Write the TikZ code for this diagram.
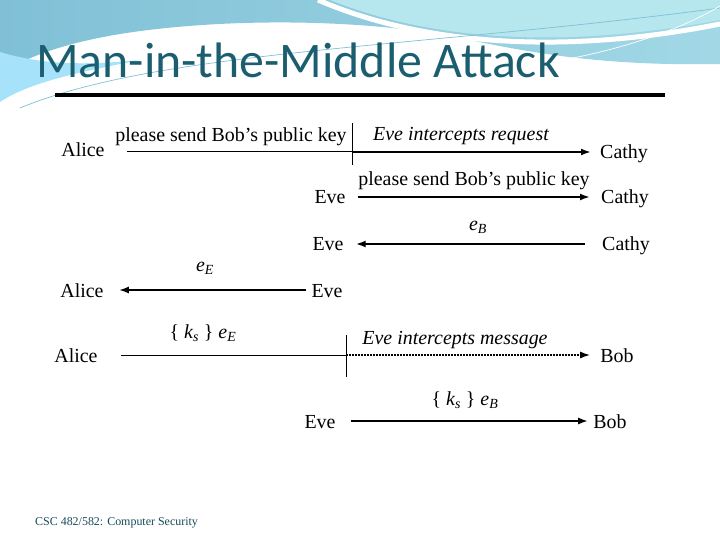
\documentclass[tikz,border=0pt]{standalone}
\usepackage{fontspec}
\setmainfont{Liberation Serif}
\newfontfamily\titlefont{Carlito}
\usetikzlibrary{arrows.meta}
\definecolor{slideteal}{HTML}{1B5E70}
\definecolor{swoopdark}{HTML}{80C0D6}
\definecolor{swooplight}{HTML}{A2D8E6}
\definecolor{swoopbright}{HTML}{B6E6EE}
\tikzset{
  party/.style={font=\fontsize{20}{24}\selectfont, inner sep=5bp,
                text height=14bp, text depth=0bp},
  msglabel/.style={font=\fontsize{20}{24}\selectfont, inner sep=0bp},
  note/.style={font=\fontsize{20}{24}\selectfont\itshape, inner sep=0bp},
  msg/.style={line width=2bp, -{Latex[length=10bp,width=7bp]}},
  sent/.style={line width=1bp},
  cut/.style={line width=1bp},
}

\begin{document}
\begin{tikzpicture}[x=1bp,y=-1bp]
  \useasboundingbox (0,0) rectangle (720,540);
  %
  % slide background: the swoosh at the top
  \shade[left color=swoopdark, right color=swooplight]
    (0,0) -- (720,0) -- (720,64)
    .. controls (610,66) and (540,55) .. (460,38)
    .. controls (360,18) and (220,18) .. (120,34)
    .. controls (60,44) and (25,58) .. (0,74) -- cycle;
  \fill[swoopbright] (330,0) .. controls (430,40) and (560,50) .. (720,20)
    -- (720,0) -- cycle;
  \draw[white, line width=5bp] (318,0) .. controls (420,44) and (560,56) .. (720,24);
  \fill[cyan!35] (0,52) .. controls (40,64) and (80,66) .. (140,60)
    .. controls (80,72) and (30,82) .. (0,102) -- cycle;
  \draw[swoopdark, line width=0.7bp] (20,108) .. controls (160,50) and (420,48) .. (720,8);
  \draw[white, line width=0.7bp] (470,72) .. controls (600,62) and (680,30) .. (720,6);
  %
  % title and rule
  \node[anchor=base west, inner sep=0bp, text=slideteal,
        font=\titlefont\fontsize{50}{60}\selectfont] (title) at (36,78)
        {Man-in-the-Middle Attack};
  \draw[line width=4bp] (55,95) -- (665,95);
  %
  % row 1: Alice asks for Bob's key, Eve intercepts
  \node[party] (alice1) at (83,150) {Alice};
  \node[party] (cathy1) at (624,152) {Cathy};
  \coordinate (cut1) at (352,152);
  \node[msglabel] (ask1) at (231,137) {please send Bob’s public key};
  \node[note] (note1) at (461,136) {Eve intercepts request};
  \draw[sent, shorten <=17bp] (alice1.east |- cut1) -- (cut1);
  \draw[msg, shorten >=4bp] (cut1) -- (cut1 -| cathy1.west);
  \draw[cut] (352,123) -- (352,165);
  %
  % row 2: Eve forwards the request
  \node[party] (eve2) at (330,197) {Eve};
  \node[party] (cathy2) at (625,197) {Cathy};
  \node[msglabel] (ask2) at (474,181) {please send Bob’s public key};
  \draw[msg, shorten <=7bp, shorten >=6bp] (eve2.east) -- (cathy2.west);
  %
  % row 3: Cathy answers with Bob's key
  \node[party] (eve3) at (328,244) {Eve};
  \node[party] (cathy3) at (626,244) {Cathy};
  \node[msglabel] (key3) at (478,227) {$\mathit{e}_{\mathit{B}}$};
  \draw[msg, shorten <=12bp, shorten >=7bp] (cathy3.west) -- (eve3.east);
  %
  % row 4: Eve gives Alice her own key
  \node[party] (alice4) at (82,290) {Alice};
  \node[party] (eve4) at (327,290) {Eve};
  \node[msglabel] (key4) at (205,268) {$\mathit{e}_{\mathit{E}}$};
  \draw[msg, shorten >=10bp] (eve4.west) -- (alice4.east);
  %
  % row 5: Alice sends the session key, Eve intercepts
  \node[party] (alice5) at (76,355) {Alice};
  \node[party] (bob5) at (617,355) {Bob};
  \coordinate (cut5) at (346,355);
  \node[msglabel] (sess5) at (203,333) {\{ $\mathit{k}_{\mathit{s}}$ \} $\mathit{e}_{\mathit{E}}$};
  \node[note] (note5) at (455,340) {Eve intercepts message};
  \draw[sent, shorten <=18bp] (alice5.east) -- (cut5);
  \draw[msg, densely dotted, line width=1.6bp, shorten >=5bp] (cut5) -- (bob5.west);
  \draw[cut] (346,335) -- (346,377);
  %
  % row 6: Eve passes it on to Bob
  \node[party] (eve6) at (320,421) {Eve};
  \node[party] (bob6) at (610,421) {Bob};
  \node[msglabel] (sess6) at (465,400) {\{ $\mathit{k}_{\mathit{s}}$ \} $\mathit{e}_{\mathit{B}}$};
  \draw[msg, shorten <=10bp] (eve6.east) -- (bob6.west);
  %
  % footer
  \node[anchor=base west, inner sep=0bp, text=slideteal!80!black,
        font=\fontsize{12}{14}\selectfont] (footer) at (35,525)
        {CSC 482/582: Computer Security};
\end{tikzpicture}
\end{document}
